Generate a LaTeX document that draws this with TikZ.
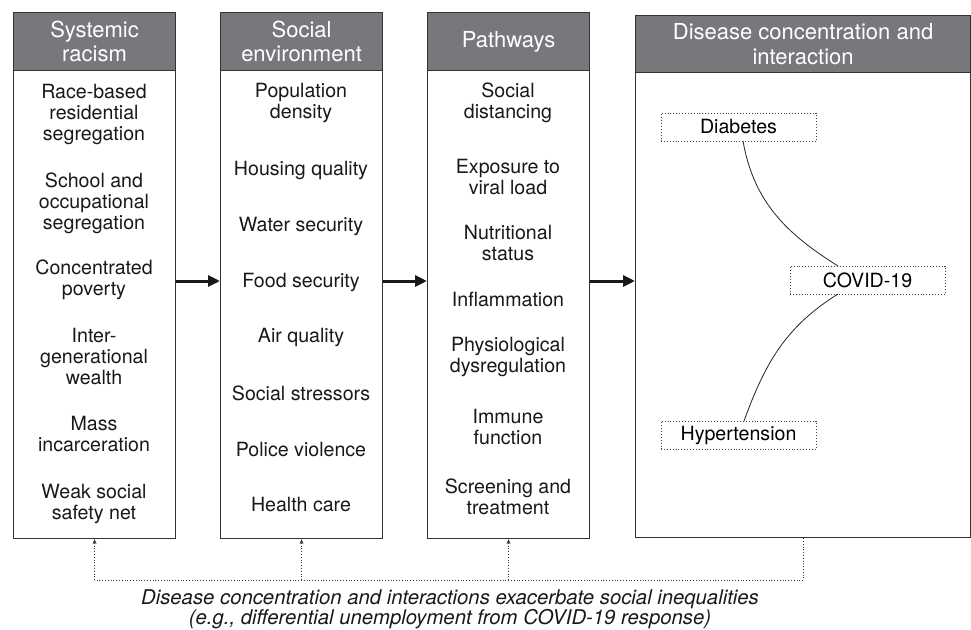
\documentclass[tikz,border=0pt]{standalone}
\usepackage{fontspec}
\setmainfont{TeX Gyre Heros}
\usetikzlibrary{arrows.meta}
\definecolor{hdrgray}{HTML}{77787B}
\definecolor{edge}{HTML}{333333}
\tikzset{
  hdr/.style={draw=edge, line width=1.1pt, fill=hdrgray, text=white, align=center, anchor=north west, inner sep=0pt,
    font=\fontsize{22}{24.5}\selectfont},
  bodybox/.style={draw=edge, line width=1.1pt, fill=white, anchor=north west, inner sep=0pt},
  item/.style={align=center, inner sep=0pt, font=\fontsize{19.6}{21}\selectfont, text=black!90},
  dbox/.style={draw=black!75, dotted, line width=0.9pt, minimum width=155pt, minimum height=28pt, inner sep=0pt,
    font=\fontsize{19.6}{21}\selectfont},
  bigarrow/.style={line width=3pt, draw=black!90, -{Triangle[length=12pt,width=11pt]}},
  fbline/.style={draw=black!80, dotted, line width=0.8pt},
  fbarrow/.style={fbline, -{Stealth[length=5pt,width=4pt]}},
  curve/.style={draw=black!85, line width=0.8pt}
}
\begin{document}
\begin{tikzpicture}[x=1pt,y=-1pt]
\useasboundingbox (0,0) rectangle (971,629);
% column 1
\node[bodybox, minimum width=162pt, minimum height=468pt] (b1) at (13,70) {};
\node[hdr, minimum width=162pt, minimum height=58pt] (h1) at (13,12) {Systemic\\racism};
\node[item] (a1) at (94,114) {Race-based\\residential\\segregation};
\node[item] (a2) at (94,203) {School and\\occupational\\segregation};
\node[item] (a3) at (94,280) {Concentrated\\poverty};
\node[item] (a4) at (94,356) {Inter-\\generational\\wealth};
\node[item] (a5) at (94,434) {Mass\\incarceration};
\node[item] (a6) at (94,504) {Weak social\\safety net};
% column 2
\node[bodybox, minimum width=162pt, minimum height=468pt] (b2) at (220,70) {};
\node[hdr, minimum width=162pt, minimum height=58pt] (h2) at (220,12) {Social\\environment};
\node[item] (s1) at (301,103) {Population\\density};
\node[item] (s2) at (301,170) {Housing quality};
\node[item] (s3) at (301,226) {Water security};
\node[item] (s4) at (301,282) {Food security};
\node[item] (s5) at (301,337) {Air quality};
\node[item] (s6) at (301,393) {Social stressors};
\node[item] (s7) at (301,449) {Police violence};
\node[item] (s8) at (301,504) {Health care};
% column 3
\node[bodybox, minimum width=162pt, minimum height=468pt] (b3) at (427,70) {};
\node[hdr, minimum width=162pt, minimum height=58pt] (h3) at (427,12) {Pathways};
\node[item] (p1) at (508,103) {Social\\distancing};
\node[item] (p2) at (508,177) {Exposure to\\viral load};
\node[item] (p3) at (508,243) {Nutritional\\status};
\node[item] (p4) at (508,299) {Inflammation};
\node[item] (p5) at (508,357) {Physiological\\dysregulation};
\node[item] (p6) at (508,427) {Immune\\function};
\node[item] (p7) at (508,497) {Screening and\\treatment};
% column 4
\node[bodybox, minimum width=335pt, minimum height=465pt] (b4) at (635,72) {};
\node[hdr, minimum width=335pt, minimum height=57pt] (h4) at (635,15) {Disease concentration and\\interaction};
\node[dbox] (dia) at (738.5,127) {Diabetes};
\node[dbox] (cov) at (867.5,280) {COVID-19};
\node[dbox] (hyp) at (738.5,435) {Hypertension};
\draw[curve] (743,141) to[out=-80, in=148] (838,266);
\draw[curve] (838,294) to[out=212, in=70] (744,421);
% main arrows
\coordinate (ya) at (0,281);
\draw[bigarrow] (b1.east |- ya) -- (b2.west |- ya);
\draw[bigarrow] (b2.east |- ya) -- (b3.west |- ya);
\draw[bigarrow] (b3.east |- ya) -- (b4.west |- ya);
% feedback
\coordinate (fb) at (0,580);
\draw[fbline] (b4.south) -- (b4.south |- fb) -- (b1.south |- fb);
\draw[fbarrow] (b1.south |- fb) -- (b1.south);
\draw[fbarrow] (b2.south |- fb) -- (b2.south);
\draw[fbarrow] (b3.south |- fb) -- (b3.south);
\node[item, font=\fontsize{20.3}{20}\selectfont\itshape] (cap) at (450,609.5) {Disease concentration and interactions exacerbate social inequalities\\(e.g., differential unemployment from COVID-19 response)};
\end{tikzpicture}
\end{document}
